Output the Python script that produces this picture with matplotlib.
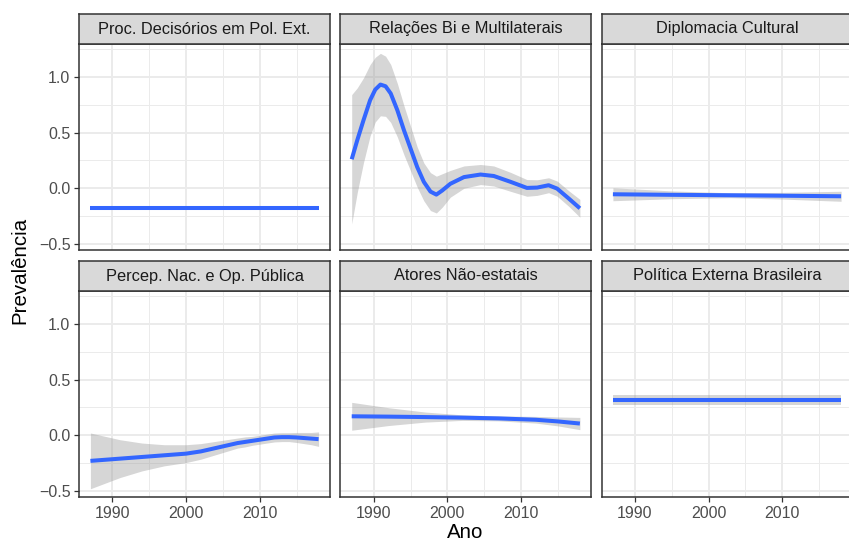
import matplotlib
matplotlib.use("Agg")
import matplotlib.pyplot as plt
import numpy as np

plt.rcParams['font.family'] = ['Liberation Sans', 'DejaVu Sans']
plt.rcParams['axes.unicode_minus'] = True

# anos cobertos pela suavizacao
anos = list(range(1987, 2019))

# Proc. Decisórios em Pol. Ext.
anos_proc = [1987, 2018]
fit_proc = [-0.177, -0.177]
se_proc = [0.006, 0.006]

# Relações Bi e Multilaterais (pontos lidos ao longo da curva)
anos_rel = [1987.0, 1987.75, 1988.6, 1989.5, 1990.2, 1990.9, 1991.6, 1992.3, 1993.2,
            1994.1, 1995.0, 1995.9, 1996.8, 1997.7, 1998.5, 1999.3, 2000.4, 2002.25,
            2004.5, 2006.3, 2008.6, 2010.8, 2012.2, 2013.75, 2014.9, 2016.5, 2018.0]
fit_rel = [0.26, 0.43, 0.61, 0.79, 0.885, 0.93, 0.915, 0.85, 0.70,
           0.52, 0.355, 0.19, 0.057, -0.03, -0.057, -0.02, 0.04, 0.10,
           0.123, 0.11, 0.057, 0.003, 0.006, 0.027, -0.003, -0.093, -0.18]
se_rel = [0.58, 0.47, 0.38, 0.32, 0.29, 0.28, 0.27, 0.26, 0.24,
          0.22, 0.20, 0.18, 0.17, 0.17, 0.165, 0.15, 0.12, 0.10,
          0.09, 0.09, 0.085, 0.075, 0.07, 0.067, 0.068, 0.07, 0.08]

# Diplomacia Cultural
anos_dipl = [1987, 1995, 2003, 2010, 2018]
fit_dipl = [-0.054, -0.059, -0.063, -0.067, -0.072]
se_dipl = [0.058, 0.035, 0.022, 0.03, 0.045]

# Percep. Nac. e Op. Pública
fit_perc = [-0.23, -0.225, -0.22, -0.215, -0.21, -0.205, -0.20, -0.195, -0.19, -0.185,
            -0.18, -0.175, -0.17, -0.165, -0.155, -0.145, -0.13, -0.115, -0.10, -0.085,
            -0.07, -0.06, -0.05, -0.04, -0.03, -0.02, -0.017, -0.017, -0.02, -0.025,
            -0.03, -0.035]
se_perc = [0.25, 0.23, 0.21, 0.19, 0.17, 0.155, 0.14, 0.125, 0.115, 0.105, 0.095, 0.09,
           0.085, 0.08, 0.075, 0.07, 0.065, 0.06, 0.055, 0.05, 0.045, 0.045, 0.04, 0.04,
           0.04, 0.04, 0.04, 0.04, 0.045, 0.05, 0.055, 0.065]

# Atores Não-estatais
anos_ator = [1987, 1992, 1997, 2002, 2007, 2012, 2015, 2018]
fit_ator = [0.170, 0.167, 0.163, 0.158, 0.151, 0.139, 0.124, 0.105]
se_ator = [0.125, 0.08, 0.045, 0.025, 0.022, 0.03, 0.04, 0.055]

# Política Externa Brasileira
anos_pol = [1987, 2018]
fit_pol = [0.315, 0.315]
se_pol = [0.043, 0.043]

paineis = [
    ("Proc. Decisórios em Pol. Ext.", anos_proc, fit_proc, se_proc),
    ("Relações Bi e Multilaterais", anos_rel, fit_rel, se_rel),
    ("Diplomacia Cultural", anos_dipl, fit_dipl, se_dipl),
    ("Percep. Nac. e Op. Pública", anos, fit_perc, se_perc),
    ("Atores Não-estatais", anos_ator, fit_ator, se_ator),
    ("Política Externa Brasileira", anos_pol, fit_pol, se_pol),
]

W, H = 849, 541
fig = plt.figure(figsize=(W / 100, H / 100), dpi=100)

col_esq = [79, 340.3, 601.5]
larg = 251
topo_painel = [44, 291]
alt = 206
alt_faixa = 30

cor_borda = '#333333'
cor_texto = '#4D4D4D'

for i, (titulo, x, y, se) in enumerate(paineis):
    lin, col = divmod(i, 3)
    left = col_esq[col] / W
    bottom = 1 - (topo_painel[lin] + alt) / H
    ax = fig.add_axes([left, bottom, larg / W, alt / H])

    x = np.array(x)
    y = np.array(y)
    se = np.array(se)
    ax.fill_between(x, y - se, y + se, color='#999999', alpha=0.4, linewidth=0, zorder=2)
    ax.plot(x, y, color='#3366FF', lw=2.9, zorder=3, solid_capstyle='butt',
            solid_joinstyle='round')

    ax.set_xlim(1985.45, 2019.55)
    ax.set_ylim(-0.554, 1.294)
    ax.set_xticks([1990, 2000, 2010])
    ax.set_xticks([1995, 2005, 2015], minor=True)
    ax.set_yticks([-0.5, 0.0, 0.5, 1.0])
    ax.set_yticks([-0.25, 0.25, 0.75, 1.25], minor=True)
    ax.set_yticklabels(['\u22120.5', '0.0', '0.5', '1.0'])
    ax.grid(which='major', color='#EBEBEB', lw=1.4, zorder=0)
    ax.grid(which='minor', color='#EBEBEB', lw=0.7, zorder=0)
    ax.set_axisbelow(True)
    for s in ax.spines.values():
        s.set_color(cor_borda)
        s.set_linewidth(1.1)
        s.set_zorder(5)

    ax.tick_params(which='major', length=3.7, width=0.9, color=cor_borda,
                   labelcolor=cor_texto, labelsize=11.5, pad=2.5)
    ax.tick_params(which='minor', length=0)
    if col != 0:
        ax.tick_params(axis='y', which='major', length=0, labelleft=False)
    if lin == 0:
        ax.tick_params(axis='x', which='major', length=0, labelbottom=False)

    # faixa do titulo
    fx = fig.add_axes([left, 1 - topo_painel[lin] / H, larg / W, alt_faixa / H])
    fx.set_facecolor('#D9D9D9')
    fx.set_xticks([])
    fx.set_yticks([])
    for s in fx.spines.values():
        s.set_color(cor_borda)
        s.set_linewidth(1.1)
    fx.text(0.5, 0.5, titulo, ha='center', va='center', fontsize=11.8,
            color='#1A1A1A', transform=fx.transAxes)

fig.text(19.5 / W, 0.5, 'Prevalência', rotation=90, ha='center', va='center',
         fontsize=14.8, color='black')
fig.text(465.5 / W, 1 - 532 / H, 'Ano', ha='center', va='center',
         fontsize=14.8, color='black')

fig.savefig('out.png', dpi=100)
